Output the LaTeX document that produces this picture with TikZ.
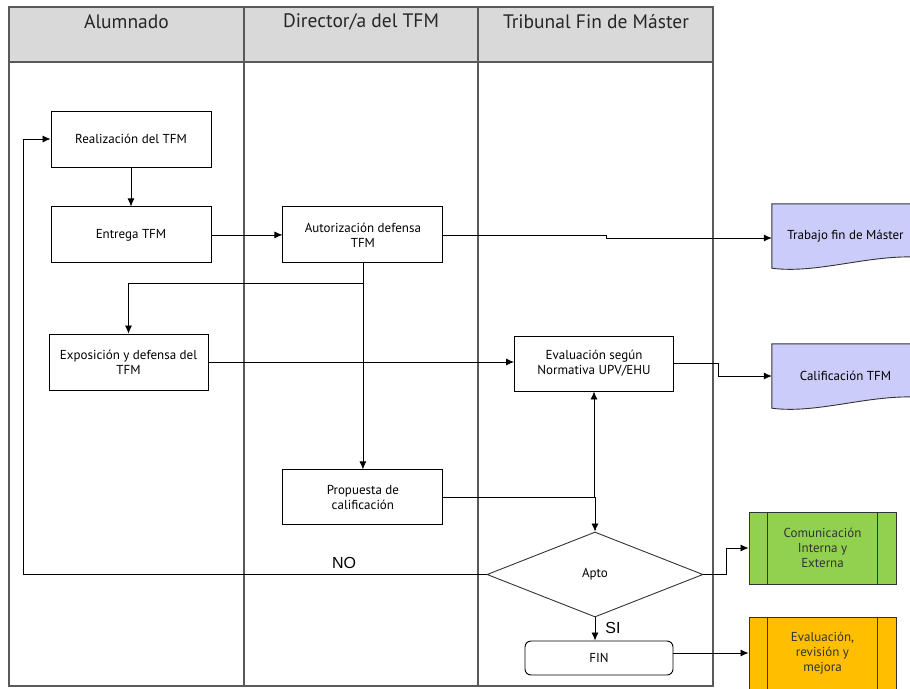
\documentclass[tikz,border=0pt]{standalone}
\usepackage{fontspec}
\setmainfont{PT Sans}
\newfontfamily\labelfont{Liberation Sans}
\usepackage{tikz}
\usetikzlibrary{shapes, positioning, calc, arrows.meta, backgrounds}
\definecolor{lanegray}{rgb}{0.85, 0.85, 0.85}
\definecolor{frameline}{rgb}{0.35, 0.35, 0.35}
\definecolor{docviolet}{rgb}{0.8, 0.8, 0.98}
\definecolor{procgreen}{rgb}{0.57, 0.82, 0.31}
\definecolor{procorange}{rgb}{1.0, 0.75, 0.0}

\begin{document}
\begin{tikzpicture}[x=1pt, y=-1pt]
		\tikzstyle{taskb}=[rectangle, draw=black, line width=0.9pt, minimum width=160pt, minimum height=56pt, inner sep=2pt, align=center, font=\fontsize{13}{15}\selectfont]
		\tikzstyle{taskd}=[rectangle, draw=none, minimum width=147pt, minimum height=64pt, align=center, font=\fontsize{13}{15}\selectfont]
		\tikzstyle{taskp}=[rectangle, draw=black!80, line width=0.9pt, minimum width=147pt, minimum height=72pt, align=center, font=\fontsize{13}{15}\selectfont, text=black!80]
		\tikzstyle{taskq}=[diamond, draw=black!80, line width=0.9pt, minimum width=216pt, minimum height=85pt, inner sep=0pt, font=\fontsize{13}{15}\selectfont]
		\tikzstyle{taskf}=[rectangle, rounded corners=6pt, draw=black, line width=0.9pt, minimum width=148pt, minimum height=34pt, font=\fontsize{13}{15}\selectfont]
		\tikzstyle{taskh}=[font=\fontsize{19.5}{22}\selectfont, text=black!85]
		\tikzstyle{taskr}=[font=\labelfont\fontsize{16}{18}\selectfont, inner sep=0pt]
		\tikzstyle{flow}=[draw=black, line width=0.8pt, -{Latex[length=8pt, width=7pt]}]
		\tikzstyle{lane}=[draw=frameline, line width=1.4pt]
		\useasboundingbox (0,0) rectangle (910,688);
		\clip (0,0) rectangle (910,688);
		%%
		%% swimlanes
		\filldraw[lane, fill=lanegray] (9,7) rectangle (713,62);
		\draw[lane] (9,7) rectangle (713,686);
		\foreach \x in {244, 478}
		\draw[lane] (\x,7) -- (\x,686);
		\foreach \x/\t [count=\i] in {126.5/Alumnado, 361/{Director/a del TFM}, 596/{Tribunal Fin de Máster}}
		\node (h\i) at (\x,22) [taskh] {\t};
		%%
		\node (real) at (131,139) [taskb] {Realización del TFM};
		\node [below=39pt of real, taskb] (entr) {Entrega TFM};
		\node [right=71pt of entr, taskb] (aut) {Autorización defensa\\TFM};
		\node (expo) at (128.5,362) [taskb, minimum width=159pt] {Exposición y defensa del\\TFM};
		\node (eval) at (594,363.5) [taskb, minimum width=159pt, minimum height=55pt] {Evaluación según\\Normativa UPV/EHU};
		\node [below=206pt of aut, taskb, minimum height=55pt] (prop) {Propuesta de\\calificación};
		\node (apto) at (595,574.5) [taskq] {Apto};
		\node (fin) at (599,658) [taskf] {FIN};
		%%
		\node (trab) at (845.5,236) [taskd] {Trabajo fin de Máster};
		\node (calif) at (845.5,376) [taskd] {Calificación TFM};
		\node (com) at (822.5,548) [taskp, fill=procgreen] {Comunicación\\Interna y\\Externa};
		\node (evr) at (822.5,653) [taskp, fill=procorange] {Evaluación,\\revisión y\\mejora};
		\foreach \p in {com, evr} {
			\draw[draw=black!80, line width=0.9pt] ([xshift=19pt]\p.north west) -- ([xshift=19pt]\p.south west);
			\draw[draw=black!80, line width=0.9pt] ([xshift=-19pt]\p.north east) -- ([xshift=-19pt]\p.south east);
		}
		\begin{scope}[on background layer]
		\foreach \d in {trab, calif}
		\filldraw[draw=black!80, line width=0.9pt, fill=docviolet] (\d.north west) -- (\d.north east) -- ([yshift=11pt]\d.south east) .. controls ([xshift=-50pt, yshift=14pt]\d.south east) and ([xshift=45pt, yshift=-6pt]\d.south west) .. (\d.south west) -- cycle;
		\end{scope}
		%%
		\draw[flow] (real) -- (entr);
		\draw[flow] (entr) -- (aut);
		\draw[flow] (aut.east) -- ++(163,0) |- ([yshift=-2pt]trab.west);
		\draw[flow] (aut) -- (prop);
		\draw[flow] ([yshift=-20pt]aut.south) -| (expo.north);
		\draw[flow] (expo.east) -- (expo.east -| eval.west);
		\draw[flow] (eval.east) -- ++(44,0) |- (calif.west);
		\draw[flow] (prop.east) -| (eval.south);
		\draw[flow] (prop.east) -| (apto.north);
		\draw[flow] (apto.west) -| ([xshift=-27pt]real.west) -- (real.west);
		\draw[flow] (apto.east) -- ++(23,0) |- (com.west);
		\draw[flow] (apto.south) -- (apto.south |- fin.north);
		\draw[flow] (fin.east |- evr.west) -- (evr.west);
		%%
		\node (no) at (344,563) [taskr] {NO};
		\node (si) at (613,628) [taskr] {SI};
\end{tikzpicture}
\end{document}
